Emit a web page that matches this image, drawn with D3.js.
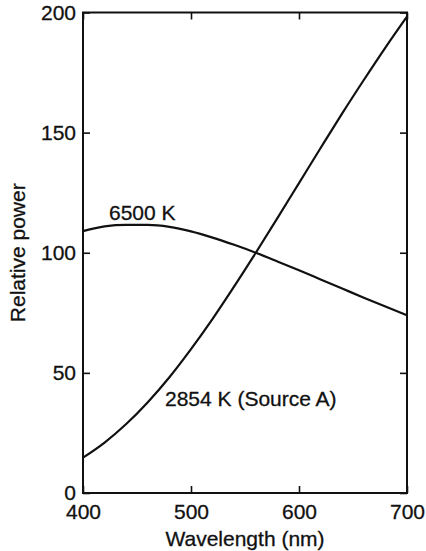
<!DOCTYPE html>
<html>
<head>
<meta charset="utf-8">
<script src="https://cdnjs.cloudflare.com/ajax/libs/d3/7.8.5/d3.min.js"></script>
<style>
	body { margin: 0; background: #fff; }
	svg text { font-family: "Liberation Sans", Arial, sans-serif; fill: #111; stroke: #111; stroke-width: 0.3px; }
</style>
</head>
<body>
<svg id="plot" width="426" height="551"></svg>
<script>
	// wavelength samples (nm)
	var wavelengths = [400, 420, 440, 460, 480, 500, 520, 540, 560, 580, 600, 620, 640, 660, 680, 700];
	// relative power, normalised to 100 at 560 nm
	var sourceA = [14.7, 21.0, 28.7, 37.8, 48.2, 59.9, 72.5, 86.0, 100.0, 114.4, 129.0, 143.6, 158.0, 171.9, 185.4, 198.3];
	var k6500 = [109.0, 111.0, 111.6, 111.6, 110.8, 108.9, 106.3, 103.3, 100.0, 96.4, 92.7, 88.9, 85.1, 81.3, 77.6, 74.0];
	var xTicks = [400, 500, 600, 700];
	var yTicks = [0, 50, 100, 150, 200];

	var svg = d3.select("#plot");
	var pLeft = 83, pRight = 407, pTop = 12.5, pBottom = 493;

	var x = d3.scaleLinear().domain([400, 700]).range([pLeft, pRight]);
	var y = d3.scaleLinear().domain([0, 200]).range([pBottom, pTop]);

	var tickLen = 7;
	var fs = "21px";

	// ticks on all four sides, pointing inward
	svg.append("g").attr("transform", "translate(0," + pBottom + ")")
		.call(d3.axisBottom(x).tickValues(xTicks).tickSize(-tickLen).tickPadding(10).tickFormat(d3.format("d")))
		.call(function(g){ g.select(".domain").remove(); })
		.call(function(g){ g.selectAll("text").attr("dy", "0.75em").style("font-size", fs); });
	svg.append("g").attr("transform", "translate(0," + pTop + ")")
		.call(d3.axisTop(x).tickValues(xTicks).tickSize(-tickLen).tickFormat(""))
		.call(function(g){ g.select(".domain").remove(); });
	svg.append("g").attr("transform", "translate(" + pLeft + ",0)")
		.call(d3.axisLeft(y).tickValues(yTicks).tickSize(-tickLen).tickPadding(7).tickFormat(d3.format("d")))
		.call(function(g){ g.select(".domain").remove(); })
		.call(function(g){ g.selectAll("text").style("font-size", fs); });
	svg.append("g").attr("transform", "translate(" + pRight + ",0)")
		.call(d3.axisRight(y).tickValues(yTicks).tickSize(-tickLen).tickFormat(""))
		.call(function(g){ g.select(".domain").remove(); });

	svg.selectAll(".tick line").attr("stroke", "#111").attr("stroke-width", 1.6);
	svg.selectAll(".tick text").attr("fill", "#111");

	// frame
	svg.append("rect")
		.attr("x", pLeft).attr("y", pTop)
		.attr("width", pRight - pLeft).attr("height", pBottom - pTop)
		.attr("fill", "none").attr("stroke", "#111").attr("stroke-width", 2);

	var line = d3.line()
		.x(function(d){ return x(d[0]); })
		.y(function(d){ return y(d[1]); })
		.curve(d3.curveMonotoneX);

	[sourceA, k6500].forEach(function(vals){
		svg.append("path")
			.datum(wavelengths.map(function(w, i){ return [w, vals[i]]; }))
			.attr("d", line)
			.attr("fill", "none")
			.attr("stroke", "#111")
			.attr("stroke-width", 2.2);
	});

	svg.append("text").attr("x", 109).attr("y", 220).style("font-size", fs).text("6500 K");
	svg.append("text").attr("x", 165).attr("y", 406).style("font-size", fs).text("2854 K (Source A)");

	svg.append("text")
		.attr("x", (pLeft + pRight) / 2).attr("y", 546)
		.attr("text-anchor", "middle").style("font-size", fs)
		.text("Wavelength (nm)");
	svg.append("text")
		.attr("transform", "translate(25," + ((pTop + pBottom) / 2) + ") rotate(-90)")
		.attr("text-anchor", "middle").style("font-size", fs)
		.text("Relative power");
</script>
</body>
</html>
